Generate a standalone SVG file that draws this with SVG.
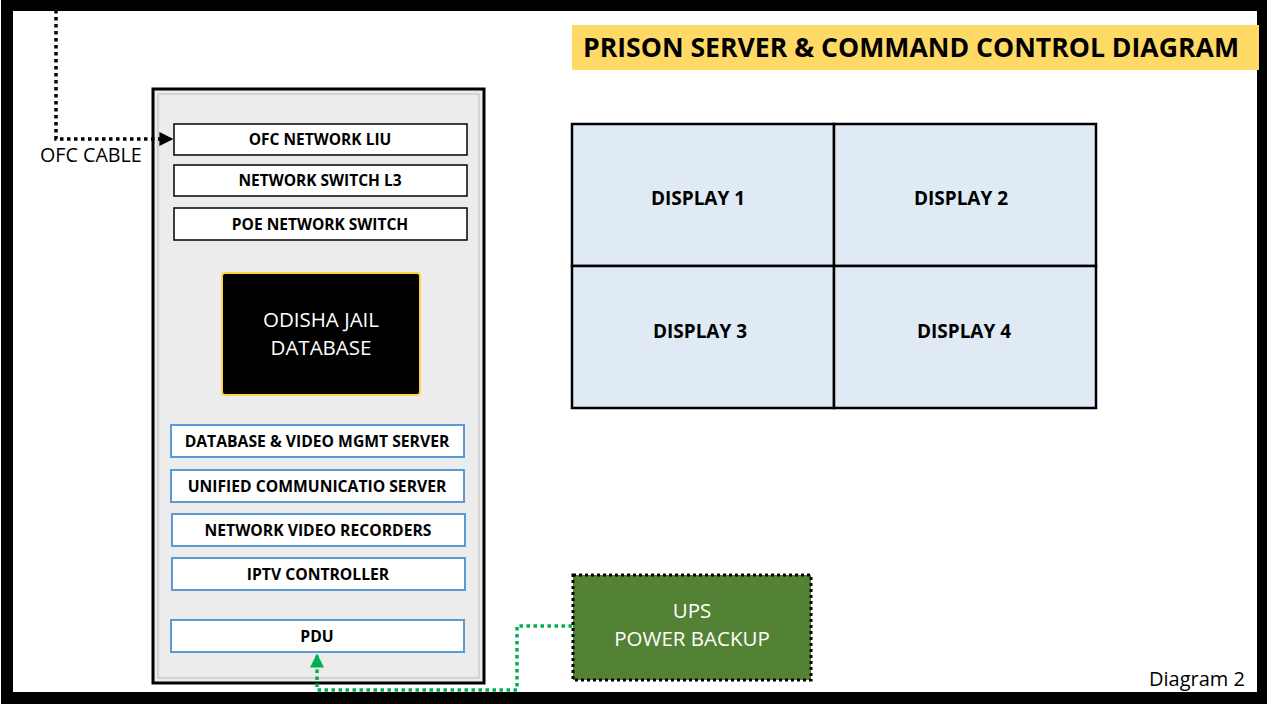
<svg xmlns="http://www.w3.org/2000/svg" width="1267" height="704" viewBox="0 0 1267 704">
<defs>
<style>
.lbl{font-family:"Open Sans","Liberation Sans",sans-serif;font-weight:bold;fill:#000;text-anchor:middle}
.wt{font-family:"Open Sans","Liberation Sans",sans-serif;fill:#fff;text-anchor:middle;font-size:20.5px}
.bx{fill:#fff;stroke:#000;stroke-width:1.5}
.bb{fill:#fff;stroke:#5b9bd5;stroke-width:2}
.disp{fill:#dfeaf5;stroke:#000;stroke-width:2.5}
</style>
<marker id="ab" viewBox="0 0 10 10" refX="9" refY="5" markerWidth="4" markerHeight="4" orient="auto"><path d="M0,0L10,5L0,10z" fill="#000"/></marker>
<marker id="ag" viewBox="0 0 10 10" refX="9" refY="5" markerWidth="4" markerHeight="4" orient="auto"><path d="M0,0L10,5L0,10z" fill="#00b050"/></marker>
</defs>
<rect x="0" y="0" width="1267" height="704" fill="#fff"/>
<rect x="7" y="5" width="1256" height="693" fill="none" stroke="#000" stroke-width="12"/>
<g id="title">
<rect x="572" y="25" width="687" height="45" fill="#ffd966"/>
<text x="911" y="57" class="lbl" font-size="26" textLength="656" lengthAdjust="spacingAndGlyphs">PRISON SERVER &amp; COMMAND CONTROL DIAGRAM</text>
</g>
<g id="rack">
<rect x="153" y="89" width="331" height="594" fill="#ececec" stroke="#000" stroke-width="3"/>
<rect x="158" y="94" width="321" height="584" fill="none" stroke="#bdbdbd" stroke-width="1"/>
</g>
<g id="ofc-liu"><rect class="bx" x="174" y="124" width="293" height="31"/><text class="lbl" x="320" y="145" font-size="15.5">OFC NETWORK LIU</text></g>
<g id="switch-l3"><rect class="bx" x="174" y="165" width="293" height="31"/><text class="lbl" x="320" y="186" font-size="15.5">NETWORK SWITCH L3</text></g>
<g id="poe-switch"><rect class="bx" x="174" y="208" width="293" height="32"/><text class="lbl" x="320" y="230" font-size="15.5">POE NETWORK SWITCH</text></g>
<g id="jail-db"><rect x="222" y="273" width="198" height="122" rx="3" fill="#000" stroke="#ffd24a" stroke-width="2"/><text class="wt" x="321" y="327">ODISHA JAIL</text><text class="wt" x="321" y="355">DATABASE</text></g>
<g id="db-server"><rect class="bb" x="171" y="425" width="293" height="32"/><text class="lbl" x="317" y="447" font-size="15.7">DATABASE &amp; VIDEO MGMT SERVER</text></g>
<g id="uc-server"><rect class="bb" x="171" y="470" width="293" height="32"/><text class="lbl" x="317" y="492" font-size="15.7">UNIFIED COMMUNICATIO SERVER</text></g>
<g id="nvr"><rect class="bb" x="172" y="514" width="293" height="32"/><text class="lbl" x="318" y="536" font-size="15.7">NETWORK VIDEO RECORDERS</text></g>
<g id="iptv"><rect class="bb" x="172" y="558" width="293" height="32"/><text class="lbl" x="318" y="580" font-size="15.7">IPTV CONTROLLER</text></g>
<g id="pdu"><rect class="bb" x="171" y="620" width="293" height="32"/><text class="lbl" x="317" y="642" font-size="15.7">PDU</text></g>
<g id="displays">
<rect class="disp" x="572" y="124" width="262" height="142"/>
<rect class="disp" x="834" y="124" width="262" height="142"/>
<rect class="disp" x="572" y="266" width="262" height="142"/>
<rect class="disp" x="834" y="266" width="262" height="142"/>
<text class="lbl" x="698" y="205" font-size="19">DISPLAY 1</text>
<text class="lbl" x="961" y="205" font-size="19">DISPLAY 2</text>
<text class="lbl" x="700" y="338" font-size="19">DISPLAY 3</text>
<text class="lbl" x="964" y="338" font-size="19">DISPLAY 4</text>
</g>
<g id="ups"><rect x="573" y="575" width="238" height="105" fill="#548235" stroke="#000" stroke-width="3" stroke-dasharray="3 3"/><text class="wt" x="692" y="618">UPS</text><text class="wt" x="692" y="646">POWER BACKUP</text></g>
<g id="connectors">
<path d="M56,10V139H172" fill="none" stroke="#000" stroke-width="3.5" stroke-dasharray="3.5 3.5" marker-end="url(#ab)"/>
<path d="M572,626H517V690H317V655" fill="none" stroke="#00b050" stroke-width="3.5" stroke-dasharray="3.5 3.5" marker-end="url(#ag)"/>
</g>
<text x="40" y="162" font-family="Open Sans, Liberation Sans, sans-serif" font-size="19.7" fill="#000">OFC CABLE</text>
<text x="1245" y="686" font-family="Open Sans, Liberation Sans, sans-serif" font-size="20" fill="#000" text-anchor="end">Diagram 2</text>
</svg>
